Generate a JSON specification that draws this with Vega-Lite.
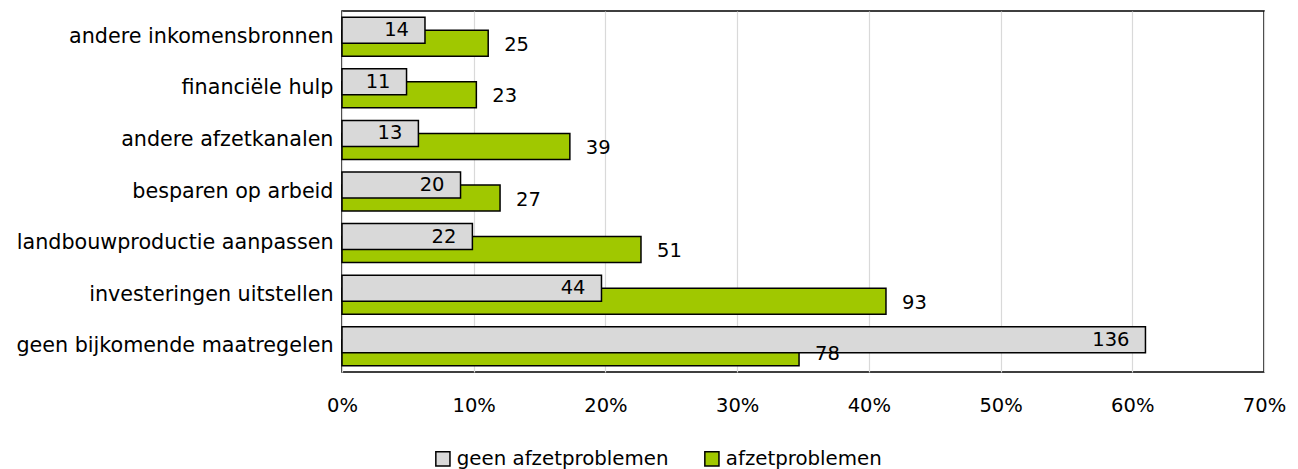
{
  "$schema": "https://vega.github.io/schema/vega-lite/v6.json",
  "width": 922,
  "height": 361,
  "autosize": {"type": "none"},
  "padding": {"left": 342, "top": 11, "right": 34, "bottom": 97},
  "background": "#ffffff",
  "config": {
    "view": {"stroke": "#000000", "strokeWidth": 1.5},
    "font": "DejaVu Sans",
    "axis": {"labelFont": "DejaVu Sans", "labelColor": "#000000", "labelFontSize": 19.5, "ticks": false, "domain": false, "title": null},
    "legend": {"labelFont": "DejaVu Sans", "labelFontSize": 19.8, "labelColor": "#000000", "labelLimit": 400}
  },
  "data": {
    "values": [
      {"maatregel": "andere inkomensbronnen", "reeks": "geen afzetproblemen", "pct": 0.063, "aantal": 14},
      {"maatregel": "financiële hulp", "reeks": "geen afzetproblemen", "pct": 0.049, "aantal": 11},
      {"maatregel": "andere afzetkanalen", "reeks": "geen afzetproblemen", "pct": 0.058, "aantal": 13},
      {"maatregel": "besparen op arbeid", "reeks": "geen afzetproblemen", "pct": 0.090, "aantal": 20},
      {"maatregel": "landbouwproductie aanpassen", "reeks": "geen afzetproblemen", "pct": 0.099, "aantal": 22},
      {"maatregel": "investeringen uitstellen", "reeks": "geen afzetproblemen", "pct": 0.197, "aantal": 44},
      {"maatregel": "geen bijkomende maatregelen", "reeks": "geen afzetproblemen", "pct": 0.610, "aantal": 136},
      {"maatregel": "andere inkomensbronnen", "reeks": "afzetproblemen", "pct": 0.111, "aantal": 25},
      {"maatregel": "financiële hulp", "reeks": "afzetproblemen", "pct": 0.102, "aantal": 23},
      {"maatregel": "andere afzetkanalen", "reeks": "afzetproblemen", "pct": 0.173, "aantal": 39},
      {"maatregel": "besparen op arbeid", "reeks": "afzetproblemen", "pct": 0.120, "aantal": 27},
      {"maatregel": "landbouwproductie aanpassen", "reeks": "afzetproblemen", "pct": 0.227, "aantal": 51},
      {"maatregel": "investeringen uitstellen", "reeks": "afzetproblemen", "pct": 0.413, "aantal": 93},
      {"maatregel": "geen bijkomende maatregelen", "reeks": "afzetproblemen", "pct": 0.347, "aantal": 78}
    ]
  },
  "encoding": {
    "y": {
      "field": "maatregel",
      "type": "nominal",
      "sort": ["andere inkomensbronnen", "financiële hulp", "andere afzetkanalen", "besparen op arbeid", "landbouwproductie aanpassen", "investeringen uitstellen", "geen bijkomende maatregelen"],
      "scale": {"paddingInner": 0, "paddingOuter": 0},
      "axis": {"labelPadding": 9, "grid": false, "labelLimit": 400, "labelFontSize": 20.7}
    },
    "x": {
      "field": "pct",
      "type": "quantitative",
      "scale": {"domain": [0, 0.7], "nice": false},
      "axis": {"values": [0, 0.1, 0.2, 0.3, 0.4, 0.5, 0.6, 0.7], "format": ".0%", "labelPadding": 24, "grid": true, "gridColor": "#d9d9d9", "gridWidth": 1.2, "labelFlush": false}
    }
  },
  "layer": [
    {
      "transform": [{"filter": "datum.reeks === 'afzetproblemen'"}],
      "mark": {"type": "bar", "height": 26, "yOffset": 6.5, "stroke": "#000000", "strokeWidth": 1.5},
      "encoding": {
        "color": {
          "field": "reeks", "type": "nominal",
          "scale": {"domain": ["geen afzetproblemen", "afzetproblemen"], "range": ["#d9d9d9", "#a0c800"]},
          "legend": {"orient": "none", "direction": "horizontal", "legendX": 91, "legendY": 438, "title": null, "symbolType": "square", "symbolSize": 200, "symbolStrokeColor": "#000000", "symbolStrokeWidth": 1.5, "labelOffset": 4, "columnPadding": 32, "symbolOpacity": 1}
        }
      }
    },
    {
      "transform": [{"filter": "datum.reeks === 'geen afzetproblemen'"}],
      "mark": {"type": "bar", "height": 26, "yOffset": -6.5, "stroke": "#000000", "strokeWidth": 1.5},
      "encoding": {"color": {"field": "reeks", "type": "nominal"}}
    },
    {
      "transform": [{"filter": "datum.reeks === 'afzetproblemen'"}],
      "mark": {"type": "text", "align": "left", "baseline": "middle", "dx": 16, "yOffset": 8, "fontSize": 19.5, "color": "#000000"},
      "encoding": {"text": {"field": "aantal", "type": "quantitative"}}
    },
    {
      "transform": [{"filter": "datum.reeks === 'geen afzetproblemen'"}],
      "mark": {"type": "text", "align": "right", "baseline": "middle", "dx": -16, "yOffset": -6.5, "fontSize": 19.5, "color": "#000000"},
      "encoding": {"text": {"field": "aantal", "type": "quantitative"}}
    }
  ]
}
